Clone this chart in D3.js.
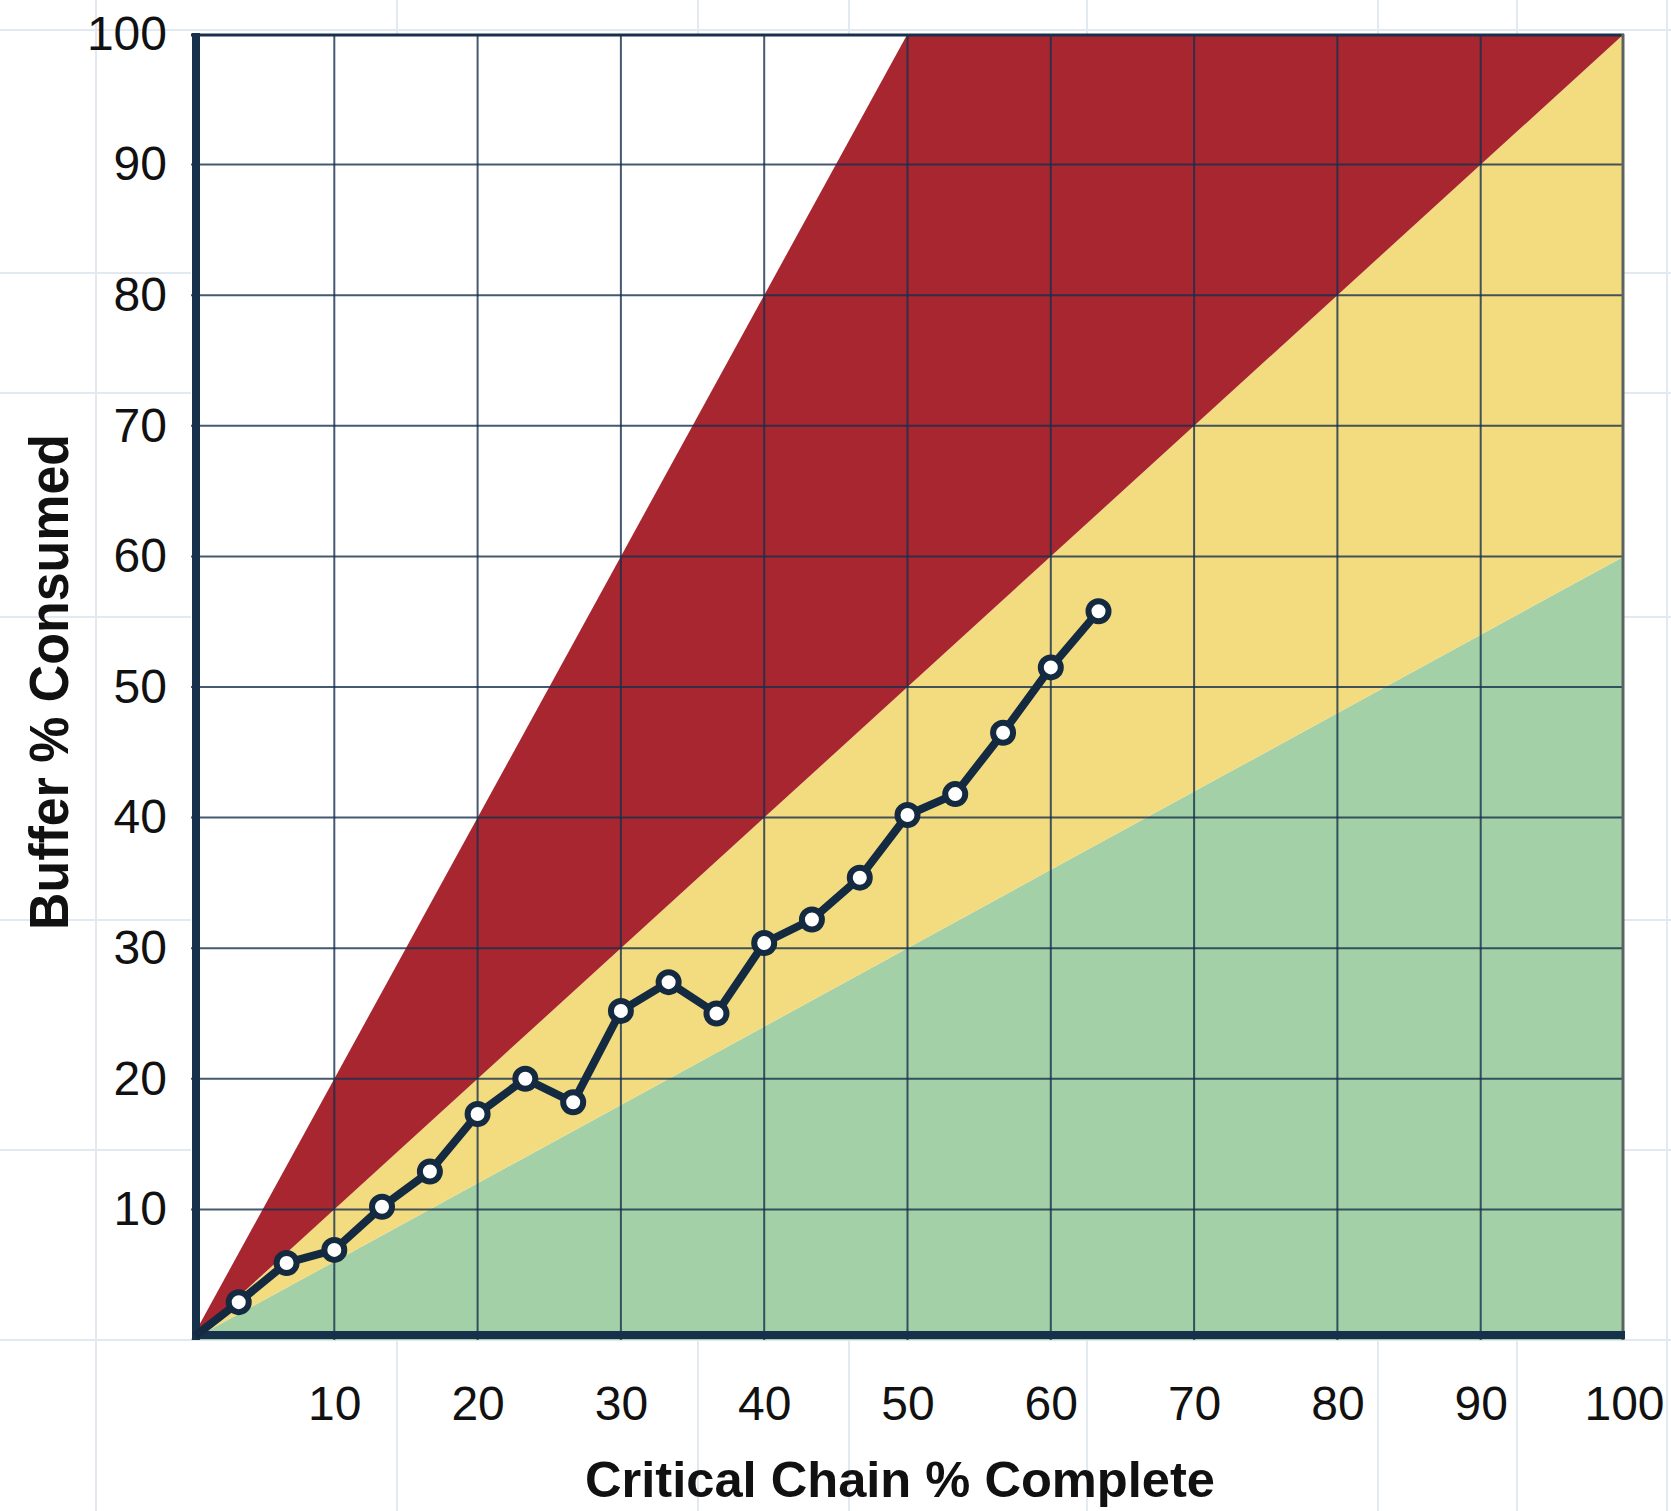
<!DOCTYPE html>
<html>
<head>
<meta charset="utf-8">
<script src="https://cdn.jsdelivr.net/npm/d3@7/dist/d3.min.js"></script>
<style>
  html, body { margin: 0; padding: 0; background: #ffffff; }
  svg { display: block; }
</style>
</head>
<body>
<svg id="chart" width="1671" height="1511"></svg>
<script>
// ---- data ----
const completePct = [3.33, 6.67, 10, 13.33, 16.67, 20, 23.33, 26.67, 30, 33.33, 36.67, 40, 43.33, 46.67, 50, 53.33, 56.67, 60, 63.33];
const bufferPct   = [2.9, 5.9, 6.9, 10.2, 12.9, 17.3, 20.0, 18.2, 25.2, 27.4, 25.0, 30.4, 32.2, 35.4, 40.2, 41.8, 46.5, 51.5, 55.8];
const xTickValues = [10, 20, 30, 40, 50, 60, 70, 80, 90, 100];
const yTickValues = [10, 20, 30, 40, 50, 60, 70, 80, 90, 100];
const gridValues  = [10, 20, 30, 40, 50, 60, 70, 80, 90];
const zoneNames   = ["green", "yellow", "red"];
const zoneShapes  = [
  [[0, 0], [100, 0], [100, 60]],
  [[0, 0], [100, 60], [100, 100]],
  [[0, 0], [100, 100], [50, 100]]
];
const xTitle = "Critical Chain % Complete";
const yTitle = "Buffer % Consumed";

// ---- styling / layout ----
const zoneColors = { green: "#A3D0A6", yellow: "#F3DC80", red: "#A8262F" };
const navy = "#17304C";
const font = "'Liberation Sans', Arial, Helvetica, sans-serif";
const paperX = [96, 397, 698, 849, 1087, 1378, 1517, 1667];
const paperY = [30, 273, 393, 617, 920, 1150, 1340];

const svg = d3.select("#chart");
const W = 1671, H = 1511;

const x = d3.scaleLinear().domain([0, 100]).range([191, 1624]);
const y = d3.scaleLinear().domain([0, 100]).range([1340, 34]);

// graph-paper background
const paper = svg.append("g");
paper.selectAll("line.px").data(paperX).join("line")
  .attr("x1", d => d).attr("x2", d => d).attr("y1", 0).attr("y2", H)
  .attr("stroke", "#E2E9F1").attr("stroke-width", 2);
paper.selectAll("line.py").data(paperY).join("line")
  .attr("y1", d => d).attr("y2", d => d).attr("x1", 0).attr("x2", W)
  .attr("stroke", "#E2E9F1").attr("stroke-width", 2);

// plot background
svg.append("rect")
  .attr("x", x(0)).attr("y", y(100))
  .attr("width", x(100) - x(0)).attr("height", y(0) - y(100))
  .attr("fill", "#ffffff");

svg.append("clipPath").attr("id", "plotClip")
  .append("rect")
  .attr("x", x(0)).attr("y", y(100))
  .attr("width", x(100) - x(0)).attr("height", y(0) - y(100));

const plot = svg.append("g").attr("clip-path", "url(#plotClip)");

// zones
plot.selectAll("path.zone").data(zoneShapes).join("path")
  .attr("class", "zone")
  .attr("d", d => d3.line().x(p => x(p[0])).y(p => y(p[1]))(d) + "Z")
  .attr("fill", (d, i) => zoneColors[zoneNames[i]]);

// grid lines
plot.selectAll("line.gx").data(gridValues).join("line")
  .attr("x1", d => x(d)).attr("x2", d => x(d))
  .attr("y1", y(100)).attr("y2", y(0))
  .attr("stroke", navy).attr("stroke-opacity", 0.8).attr("stroke-width", 2);
plot.selectAll("line.gy").data(gridValues).join("line")
  .attr("y1", d => y(d)).attr("y2", d => y(d))
  .attr("x1", x(0)).attr("x2", x(100))
  .attr("stroke", navy).attr("stroke-opacity", 0.8).attr("stroke-width", 2);

// frame: top and right borders
svg.append("line")
  .attr("x1", x(0)).attr("x2", x(100)).attr("y1", y(100) + 1).attr("y2", y(100) + 1)
  .attr("stroke", navy).attr("stroke-width", 3);
svg.append("line")
  .attr("x1", x(100) - 1).attr("x2", x(100) - 1).attr("y1", y(100)).attr("y2", y(0))
  .attr("stroke", "#5a6262").attr("stroke-width", 3);

// thick axes
svg.append("line")
  .attr("x1", x(0) + 5).attr("x2", x(0) + 5).attr("y1", y(100) - 1).attr("y2", y(0))
  .attr("stroke", navy).attr("stroke-width", 8);
svg.append("line")
  .attr("x1", x(0) + 1).attr("x2", x(100) + 1).attr("y1", y(0) - 5).attr("y2", y(0) - 5)
  .attr("stroke", navy).attr("stroke-width", 8);

// data line + markers
const pts = completePct.map((c, i) => [c, bufferPct[i]]);
svg.append("path")
  .datum(pts)
  .attr("d", d3.line().x(d => x(d[0])).y(d => y(d[1])))
  .attr("fill", "none").attr("stroke", "#142A40").attr("stroke-width", 8)
  .attr("stroke-linejoin", "round");
svg.append("path")
  .attr("d", d3.line()([[x(0) + 4, y(0) - 4], [x(pts[0][0]), y(pts[0][1])]]))
  .attr("stroke", "#142A40").attr("stroke-width", 8);
svg.selectAll("circle.pt").data(pts).join("circle")
  .attr("cx", d => x(d[0])).attr("cy", d => y(d[1])).attr("r", 10)
  .attr("fill", "#ffffff").attr("stroke", "#142A40").attr("stroke-width", 6);

// axes labels (tick text only)
const xAxis = d3.axisBottom(x).tickValues(xTickValues).tickSize(0).tickPadding(46).tickFormat(d3.format("d"));
const gx = svg.append("g").attr("transform", `translate(0,${y(0)})`).call(xAxis);
gx.select(".domain").remove();
gx.selectAll("text").attr("font-family", font).attr("font-size", 48).attr("fill", "#111");

const yAxis = d3.axisLeft(y).tickValues(yTickValues).tickSize(0).tickPadding(24).tickFormat(d3.format("d"));
const gy = svg.append("g").attr("transform", `translate(${x(0)},0)`).call(yAxis);
gy.select(".domain").remove();
gy.selectAll("text").attr("font-family", font).attr("font-size", 48).attr("fill", "#111");

// axis titles
svg.append("text")
  .attr("x", 900).attr("y", 1497)
  .attr("text-anchor", "middle")
  .attr("font-family", font).attr("font-weight", "bold").attr("font-size", 50)
  .attr("fill", "#111")
  .attr("textLength", 630).attr("lengthAdjust", "spacingAndGlyphs")
  .text(xTitle);

svg.append("text")
  .attr("transform", "translate(68,682) rotate(-90)")
  .attr("text-anchor", "middle")
  .attr("font-family", font).attr("font-weight", "bold").attr("font-size", 55)
  .attr("fill", "#111")
  .attr("textLength", 496).attr("lengthAdjust", "spacingAndGlyphs")
  .text(yTitle);
</script>
</body>
</html>
